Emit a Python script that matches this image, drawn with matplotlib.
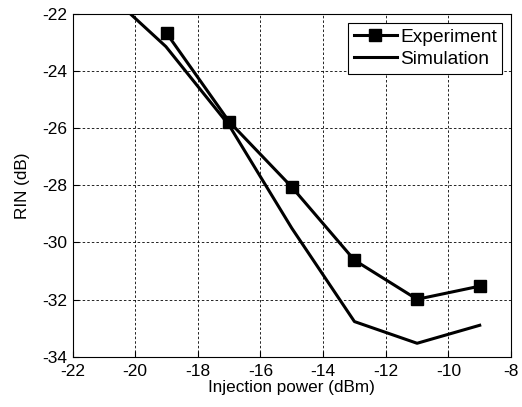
import matplotlib
matplotlib.use('Agg')
import matplotlib.pyplot as plt

plt.rcParams['font.family'] = ['Liberation Sans', 'DejaVu Sans']
plt.rcParams['axes.unicode_minus'] = False

# Experiment data
exp_power = [-19, -17, -15, -13, -11, -9]
exp_rin = [-22.67, -25.77, -28.06, -30.62, -31.99, -31.53]

# Simulation data
sim_power = [-20.15, -19.02, -17, -15, -13, -11, -9]
sim_rin = [-22.0, -23.14, -25.9, -29.5, -32.77, -33.53, -32.9]

xticks = [-22, -20, -18, -16, -14, -12, -10, -8]
yticks = [-34, -32, -30, -28, -26, -24, -22]

fig = plt.figure(figsize=(5.22, 4.07), dpi=100)
ax = fig.add_axes([0.139, 0.1236, 0.840, 0.842])

ax.plot(exp_power, exp_rin, color='black', linewidth=2.2, marker='s',
        markersize=8.5, markerfacecolor='black', label='Experiment')
ax.plot(sim_power, sim_rin, color='black', linewidth=2.2, label='Simulation')

ax.set_xlim(-22, -8)
ax.set_ylim(-34, -22)
ax.set_xticks(xticks)
ax.set_yticks(yticks)
ax.grid(True, color='black', linestyle=(0, (3, 2.5)), linewidth=0.6)
ax.tick_params(direction='in', labelsize=12.5, length=4)
ax.tick_params(axis='x', pad=5)
ax.tick_params(axis='y', pad=4)
for spine in ax.spines.values():
    spine.set_linewidth(0.8)

ax.set_xlabel('Injection power (dBm)', fontsize=12.3, labelpad=1)
ax.set_ylabel('RIN (dB)', fontsize=12.3, labelpad=9)

leg = ax.legend(loc='upper right', fontsize=13.8, fancybox=False,
                edgecolor='black', framealpha=1, handlelength=2.25,
                handletextpad=0.15, borderaxespad=0.45, borderpad=0.3,
                labelspacing=0.25)
leg.get_frame().set_linewidth(0.8)

fig.savefig('out.png', dpi=100)
